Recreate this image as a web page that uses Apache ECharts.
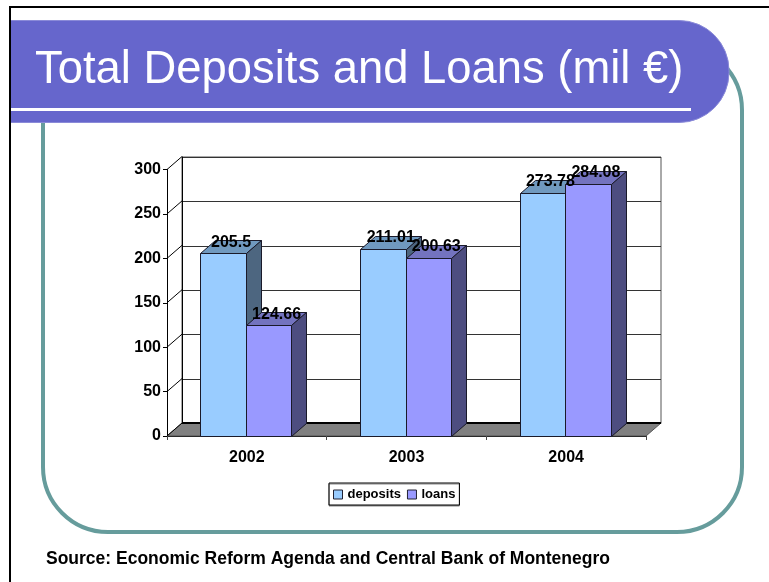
<!DOCTYPE html>
<html>
<head>
<meta charset="utf-8">
<style>html,body{margin:0;padding:0;background:#fff}#c{width:769px;height:582px}</style>
<script src="https://cdn.jsdelivr.net/npm/echarts@6/dist/echarts.min.js"></script>
</head>
<body>
<div id="c"></div>
<script>
var years = ['2002', '2003', '2004'];
var deposits = [205.5, 211.01, 273.78];
var loans = [124.66, 200.63, 284.08];
var tickValues = [0, 50, 100, 150, 200, 250, 300];
var titleText = 'Total Deposits and Loans (mil \u20AC)';
var sourceText = 'Source: Economic Reform Agenda and Central Bank of Montenegro';

var FONT = '"Liberation Sans", Arial, sans-serif';
var DX = 15, DY = 13, BAR_RATIO = 0.285;
var EDGE = '#1a1a2a';

function barSeries(name, values, slot, front, top, side) {
  return {
    name: name, type: 'custom', z: 3 + slot,
    xAxisIndex: 0, yAxisIndex: 0,
    itemStyle: { color: front },
    encode: { x: 0, y: 1 },
    data: values.map(function (v, i) { return [i, v]; }),
    renderItem: function (params, api) {
      var p = api.coord([api.value(0), api.value(1)]);
      var base = api.coord([api.value(0), 0]);
      var w = api.size([1, 0])[0] * BAR_RATIO;
      var x0 = Math.round(p[0] + (slot - 1) * w) - 0.5;
      var x1 = Math.round(p[0] + slot * w) - 0.5;
      var y0 = Math.round(p[1]) + 0.5, y1 = Math.round(base[1]) + 0.5;
      return { type: 'group', children: [
        { type: 'polygon', shape: { points: [[x0, y0], [x0 + DX, y0 - DY], [x1 + DX, y0 - DY], [x1, y0]] },
          style: { fill: top, stroke: EDGE, lineWidth: 1 } },
        { type: 'polygon', shape: { points: [[x1, y0], [x1 + DX, y0 - DY], [x1 + DX, y1 - DY], [x1, y1]] },
          style: { fill: side, stroke: EDGE, lineWidth: 1 } },
        { type: 'rect', shape: { x: x0, y: y0, width: x1 - x0, height: y1 - y0 },
          style: { fill: front, stroke: EDGE, lineWidth: 1 } }
      ] };
    }
  };
}

function labelSeries(name, values, slot) {
  return {
    name: name, type: 'custom', z: 8, silent: true,
    xAxisIndex: 0, yAxisIndex: 0,
    encode: { x: 0, y: 1 },
    data: values.map(function (v, i) { return [i, v]; }),
    renderItem: function (params, api) {
      var p = api.coord([api.value(0), api.value(1)]);
      var w = api.size([1, 0])[0] * BAR_RATIO;
      return { type: 'text', x: p[0] + (slot - 0.5) * w + DX / 2 - 0.5, y: p[1] - DY + 2,
        style: { text: String(api.value(1)), fill: '#000', font: 'bold 16px ' + FONT, align: 'center', verticalAlign: 'middle' } };
    }
  };
}

var option = {
  animation: false,
  backgroundColor: '#fff',
  textStyle: { fontFamily: FONT },
  title: [
    { text: titleText, left: 35, top: 47.5, padding: 0,
      textStyle: { color: '#fff', fontSize: 45.4, fontWeight: 'normal', fontFamily: FONT } },
    { text: sourceText, left: 46, top: 550, padding: 0,
      textStyle: { color: '#000', fontSize: 17.5, fontWeight: 'bold', fontFamily: FONT } }
  ],
  legend: {
    left: 329, top: 483, padding: [5, 4, 4, 4], itemGap: 6, itemWidth: 9, itemHeight: 9,
    data: ['deposits', 'loans'], icon: 'rect', selectedMode: false,
    backgroundColor: '#fff', borderColor: '#000', borderWidth: 1,
    shadowColor: '#888', shadowBlur: 0, shadowOffsetX: 0, shadowOffsetY: 1,
    itemStyle: { borderColor: '#223', borderWidth: 1 },
    textStyle: { color: '#000', fontSize: 13, fontWeight: 'bold', fontFamily: FONT }
  },
  graphic: [
    { type: 'rect', z: 0, shape: { x: 43, y: 45, width: 699, height: 487, r: 65 },
      style: { fill: 'none', stroke: '#669C9C', lineWidth: 4 } },
    { type: 'rect', z: 1, shape: { x: -60, y: 20.5, width: 789, height: 102, r: 50 },
      style: { fill: '#6666CC', stroke: '#8A8AD8', lineWidth: 1 } },
    { type: 'rect', z: 2, shape: { x: 11, y: 108, width: 680, height: 3 }, style: { fill: '#fff' } },
    { type: 'rect', z: 3, shape: { x: 0, y: 0, width: 9, height: 582 }, style: { fill: '#fff' } },
    { type: 'rect', z: 3, shape: { x: 9, y: 6, width: 760, height: 2 }, style: { fill: '#000' } },
    { type: 'rect', z: 3, shape: { x: 9, y: 6, width: 2, height: 576 }, style: { fill: '#000' } }
  ],
  grid: [
    { left: 167, right: 123, top: 169.5, bottom: 146 },
    { left: 182, right: 108, top: 157, bottom: 158.5, show: true, backgroundColor: 'transparent', borderColor: '#555', borderWidth: 1 }
  ],
  xAxis: [
    { type: 'category', gridIndex: 0, data: years,
      axisLine: { show: true, lineStyle: { color: '#000', width: 1 } },
      axisTick: { show: true, length: 4, lineStyle: { color: '#444' } },
      axisLabel: { color: '#000', fontSize: 16, fontWeight: 'bold', fontFamily: FONT, margin: 14 } },
    { type: 'category', gridIndex: 1, data: years, show: false }
  ],
  yAxis: [
    { type: 'value', gridIndex: 0, min: 0, max: 300, interval: 50,
      axisLine: { show: true, lineStyle: { color: '#000', width: 1 } },
      axisTick: { show: true, length: 4, lineStyle: { color: '#000' } },
      splitLine: { show: false },
      axisLabel: { color: '#000', fontSize: 16, fontWeight: 'bold', fontFamily: FONT, margin: 6, padding: [2, 0, 0, 0] } },
    { type: 'value', gridIndex: 1, min: 0, max: 300, interval: 50,
      axisLine: { show: true, lineStyle: { color: '#000', width: 1 } },
      axisTick: { show: false }, axisLabel: { show: false },
      splitLine: { show: true, lineStyle: { color: '#333', width: 1 } } }
  ],
  series: [
    { name: 'floor', type: 'custom', z: 1, silent: true, xAxisIndex: 0, yAxisIndex: 0,
      encode: { x: 0, y: 1 }, data: [[0, 0]],
      renderItem: function (params, api) {
        var c = params.coordSys, y = api.coord([0, 0])[1];
        return { type: 'group', children: [
          { type: 'polygon', shape: { points: [[c.x, y], [c.x + DX, y - DY], [c.x + c.width + DX, y - DY], [c.x + c.width, y]] },
            style: { fill: '#808080', stroke: '#555', lineWidth: 1 } },
          { type: 'line', shape: { x1: c.x + DX, y1: y - DY, x2: c.x + c.width + DX, y2: y - DY },
            style: { stroke: '#000', lineWidth: 2 } }
        ] };
      } },
    { name: 'ticks', type: 'custom', z: 2, silent: true, xAxisIndex: 0, yAxisIndex: 0,
      encode: { x: 0, y: 1 }, data: tickValues.map(function (v) { return [0, v]; }),
      renderItem: function (params, api) {
        var c = params.coordSys, y = api.coord([0, api.value(1)])[1];
        return { type: 'line', shape: { x1: c.x, y1: y, x2: c.x + DX, y2: y - DY },
          style: { stroke: '#000', lineWidth: 1 } };
      } },
    barSeries('deposits', deposits, 0, '#99CCFF', '#7099BF', '#4D6680'),
    barSeries('loans', loans, 1, '#9999FF', '#7373BF', '#4D4D80'),
    labelSeries('deposits labels', deposits, 0),
    labelSeries('loans labels', loans, 1)
  ]
};
echarts.init(document.getElementById('c'), null, { renderer: 'canvas' }).setOption(option);
</script>
</body>
</html>
